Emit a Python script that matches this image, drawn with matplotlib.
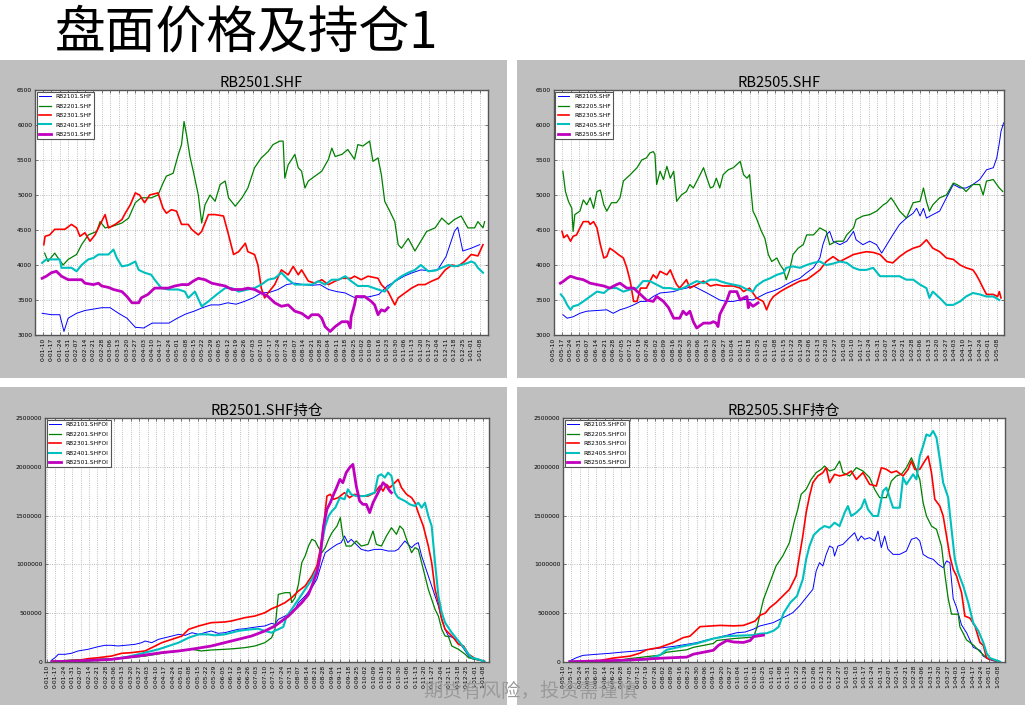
import matplotlib
matplotlib.use("Agg")
import matplotlib.pyplot as plt
from matplotlib.patches import Rectangle
import pandas as pd

plt.rcParams["font.family"] = ["Noto Sans CJK SC", "DejaVu Sans"]

# x positions are in weeks after the first tick date; prices in yuan, open interest in thousands
start_jan = "2020-01-10"
start_may = "2023-05-10"

names_jan = ["RB2101", "RB2201", "RB2301", "RB2401", "RB2501"]
names_may = ["RB2105", "RB2205", "RB2305", "RB2405", "RB2505"]

# ---- RB2501 price panel
p01_2101 = [(-0.1, 3310), (1, 3290), (2, 3290), (2.5, 3050), (3, 3240), (4, 3310), (5, 3350), (6, 3370),
            (7, 3390), (8, 3390), (9, 3310), (10, 3240), (11, 3110), (12, 3100), (13, 3170), (14, 3170),
            (15, 3170), (16, 3240), (17, 3300), (18, 3340), (19, 3390), (20, 3430), (21, 3430), (22, 3460),
            (23, 3440), (24, 3480), (25, 3530), (26, 3600), (27, 3610), (28, 3650), (29, 3720), (30, 3740),
            (31, 3720), (32, 3710), (33, 3720), (34, 3650), (35, 3620), (36, 3600), (37, 3540), (38, 3530),
            (39, 3550), (40, 3580), (41, 3700), (42, 3770), (43, 3840), (44, 3890), (45, 3930), (46, 3920),
            (47, 3930), (48, 4120), (49, 4480), (49.4, 4540), (50, 4200), (51, 4240), (52, 4290)]
p01_2201 = [(0.2, 4170), (0.6, 4050), (1.4, 4170), (1.8, 4100), (2.4, 4000), (3.0, 4080), (4.0, 4150),
            (4.6, 4290), (5.4, 4430), (6.4, 4480), (6.8, 4620), (7.4, 4530), (8.2, 4550), (9.4, 4600),
            (10.2, 4670), (11.0, 4890), (11.7, 4960), (12.9, 4960), (13.7, 5000), (14.3, 5170), (14.7, 5270),
            (15.5, 5310), (16.1, 5570), (16.5, 5720), (16.8, 6050), (17.1, 5860), (17.5, 5550), (17.9, 5340),
            (18.5, 5000), (18.9, 4600), (19.3, 4860), (19.9, 5000), (20.5, 4910), (21.1, 5150), (21.7, 5200),
            (22.1, 4960), (22.9, 4840), (23.7, 4960), (24.4, 5100), (25.2, 5390), (26.0, 5530), (26.8, 5620),
            (27.4, 5720), (28.2, 5770), (28.6, 5770), (28.8, 5240), (29.2, 5430), (30.0, 5580), (30.4, 5390),
            (30.8, 5340), (31.2, 5100), (31.6, 5200), (32.4, 5270), (33.2, 5340), (34.0, 5510), (34.4, 5670),
            (34.8, 5550), (35.6, 5580), (36.3, 5650), (37.1, 5510), (37.5, 5720), (38.1, 5700), (38.9, 5770),
            (39.3, 5480), (39.9, 5530), (40.3, 5290), (40.7, 4910), (41.3, 4770), (41.9, 4620), (42.3, 4290),
            (42.7, 4240), (43.5, 4380), (44.3, 4200), (45.0, 4340), (45.7, 4480), (46.7, 4530), (47.5, 4670),
            (48.3, 4580), (49.0, 4650), (49.8, 4700), (50.6, 4530), (51.4, 4530), (51.8, 4620), (52.4, 4530),
            (52.6, 4620)]
p01_2301 = [(0.1, 4290), (0.25, 4410), (0.8, 4430), (1.4, 4510), (2.6, 4510), (3.4, 4580), (4.0, 4530),
            (4.4, 4410), (5.0, 4460), (5.6, 4340), (6.2, 4430), (6.8, 4580), (7.4, 4720), (7.8, 4530),
            (8.6, 4580), (9.4, 4650), (9.8, 4740), (10.4, 4860), (11.0, 5030), (11.5, 5000), (12.1, 4890),
            (12.7, 5000), (13.7, 5030), (14.3, 4810), (14.7, 4740), (15.3, 4790), (15.9, 4770), (16.5, 4580),
            (17.3, 4580), (17.7, 4510), (18.5, 4430), (18.9, 4480), (19.7, 4720), (20.5, 4720), (21.5, 4700),
            (22.1, 4430), (22.7, 4150), (23.3, 4190), (24.1, 4310), (24.4, 4190), (25.2, 4150), (25.6, 4000),
            (26.0, 3670), (26.4, 3530), (26.8, 3600), (27.6, 3720), (28.4, 3930), (29.2, 3860), (29.8, 3980),
            (30.4, 3860), (30.8, 3930), (31.6, 3770), (32.4, 3740), (33.2, 3790), (34.0, 3720), (34.8, 3770),
            (35.6, 3810), (36.7, 3810), (37.1, 3840), (37.9, 3790), (38.7, 3840), (39.9, 3810), (40.3, 3720),
            (41.1, 3620), (41.9, 3430), (42.3, 3530), (43.1, 3600), (43.9, 3670), (44.7, 3720), (45.5, 3720),
            (46.3, 3770), (47.1, 3810), (47.9, 3930), (48.7, 4000), (49.4, 3980), (50.2, 4050), (51.0, 4150),
            (51.8, 4130), (52.4, 4290)]
p01_2401 = [(-0.1, 4030), (0.4, 4080), (2.0, 4080), (2.2, 3960), (3.4, 3960), (4.0, 3910), (4.6, 4000),
            (5.4, 4080), (6.0, 4100), (6.6, 4150), (7.8, 4150), (8.4, 4220), (8.8, 4100), (9.4, 3980),
            (10.2, 4000), (11.0, 4050), (11.4, 3930), (12.1, 3890), (12.9, 3860), (13.3, 3790), (14.1, 3670),
            (14.9, 3650), (16.1, 3650), (16.9, 3620), (17.3, 3530), (18.1, 3620), (18.9, 3410), (19.7, 3480),
            (20.7, 3580), (21.7, 3670), (22.5, 3670), (23.3, 3620), (24.4, 3650), (25.2, 3670), (26.0, 3720),
            (26.8, 3790), (27.6, 3810), (28.4, 3890), (29.2, 3790), (30.0, 3720), (30.8, 3720), (32.0, 3720),
            (32.8, 3770), (33.6, 3720), (34.4, 3790), (35.2, 3790), (36.0, 3840), (36.7, 3770), (37.5, 3700),
            (38.7, 3700), (39.9, 3650), (40.7, 3620), (41.1, 3670), (41.9, 3770), (42.7, 3840), (43.5, 3890),
            (44.3, 3930), (45.0, 4000), (45.9, 3910), (46.7, 3920), (47.5, 3960), (48.3, 4000), (49.0, 3980),
            (49.8, 4000), (50.6, 4030), (51.0, 4050), (51.4, 4030), (51.8, 3960), (52.4, 3890)]
p01_2501 = [(-0.1, 3810), (0.4, 3840), (1.0, 3890), (1.6, 3910), (2.2, 3840), (3.0, 3790), (4.6, 3790),
            (5.0, 3740), (6.0, 3720), (6.6, 3740), (7.0, 3700), (7.8, 3680), (8.4, 3650), (9.4, 3620),
            (10.0, 3550), (10.6, 3460), (11.4, 3460), (11.7, 3530), (12.5, 3580), (13.3, 3670), (14.9, 3670),
            (15.7, 3700), (16.5, 3720), (17.3, 3720), (17.9, 3770), (18.5, 3810), (19.3, 3790), (20.1, 3740),
            (20.9, 3720), (21.7, 3700), (22.5, 3650), (23.7, 3650), (24.4, 3670), (25.2, 3650), (26.0, 3600),
            (26.8, 3550), (27.6, 3460), (28.4, 3410), (29.2, 3430), (30.0, 3340), (30.8, 3310), (31.6, 3240),
            (32.0, 3290), (32.8, 3290), (33.2, 3240), (33.6, 3120), (34.2, 3050), (34.8, 3120), (35.6, 3190),
            (36.3, 3190), (36.6, 3100), (36.7, 3260), (37.1, 3430), (37.3, 3550), (38.3, 3550), (39.1, 3480),
            (39.5, 3430), (39.9, 3290), (40.3, 3360), (40.7, 3340), (41.1, 3390)]

# ---- RB2505 price panel
p05_2105 = [(1.1, 3290), (1.6, 3240), (2.3, 3260), (3.1, 3310), (3.9, 3340), (5.1, 3350), (6.25, 3360),
            (7.0, 3310), (7.8, 3360), (8.6, 3390), (9.4, 3430), (10.2, 3480), (10.9, 3480), (11.7, 3550),
            (12.5, 3600), (13.3, 3610), (14.1, 3620), (14.8, 3650), (15.6, 3670), (16.4, 3700), (17.2, 3650),
            (18.0, 3600), (18.75, 3550), (19.5, 3500), (20.3, 3480), (21.1, 3480), (21.9, 3500), (22.7, 3510),
            (23.4, 3500), (24.2, 3550), (25.0, 3600), (25.8, 3630), (26.6, 3670), (27.3, 3720), (28.1, 3770),
            (28.9, 3810), (29.7, 3890), (30.5, 3960), (31.25, 4100), (31.6, 4290), (32.0, 4430), (32.4, 4480),
            (32.8, 4340), (33.6, 4290), (34.4, 4340), (35.2, 4480), (35.5, 4360), (36.3, 4290), (37.1, 4340),
            (37.9, 4290), (38.5, 4170), (39.1, 4290), (39.8, 4430), (40.6, 4580), (41.4, 4670), (42.2, 4740),
            (42.6, 4810), (43.0, 4700), (43.4, 4810), (43.75, 4670), (44.5, 4720), (45.3, 4770), (46.1, 4960),
            (46.9, 5150), (47.7, 5100), (48.4, 5100), (49.2, 5150), (50.0, 5220), (50.8, 5360), (51.6, 5390),
            (52.0, 5530), (52.3, 5740), (52.5, 5910), (52.8, 6030)]
p05_2205 = [(1.1, 5340), (1.4, 5050), (1.75, 4910), (2.15, 4810), (2.3, 4480), (2.5, 4720), (3.1, 4770),
            (3.5, 4930), (3.9, 4860), (4.3, 4960), (4.7, 4810), (5.1, 5050), (5.5, 5070), (5.9, 4860),
            (6.25, 4770), (6.8, 4890), (7.4, 4890), (7.8, 4960), (8.2, 5200), (9.0, 5290), (9.8, 5390),
            (10.35, 5500), (10.9, 5530), (11.3, 5600), (11.7, 5620), (11.9, 5580), (12.1, 5150), (12.5, 5340),
            (12.9, 5220), (13.3, 5410), (13.7, 5240), (14.1, 5340), (14.45, 4910), (15.0, 5000), (15.6, 5050),
            (16.0, 5150), (16.4, 5100), (17.2, 5290), (17.6, 5390), (18.0, 5240), (18.4, 5100), (18.75, 5120),
            (19.1, 5240), (19.5, 5100), (19.9, 5290), (20.5, 5360), (21.1, 5390), (21.9, 5480), (22.3, 5290),
            (22.7, 5240), (23.0, 5290), (23.4, 4770), (23.8, 4670), (24.4, 4480), (24.8, 4380), (25.2, 4150),
            (25.6, 4050), (26.2, 4100), (26.6, 4000), (27.0, 3930), (27.3, 3790), (27.7, 3930), (28.1, 4150),
            (28.7, 4240), (29.3, 4290), (29.7, 4430), (30.5, 4430), (31.25, 4530), (32.0, 4480), (32.4, 4290),
            (33.2, 4340), (34.0, 4340), (34.4, 4430), (35.2, 4530), (35.5, 4650), (36.3, 4700), (37.1, 4720),
            (37.9, 4770), (38.7, 4860), (39.1, 4890), (39.6, 4960), (40.0, 4890), (40.6, 4770), (41.4, 4670),
            (42.2, 4890), (43.0, 4910), (43.4, 5100), (43.75, 4910), (44.1, 4770), (44.5, 4860), (45.3, 4960),
            (46.1, 5000), (46.9, 5170), (47.3, 5150), (48.0, 5100), (48.4, 5050), (49.2, 5150), (50.0, 5150),
            (50.4, 5000), (50.8, 5200), (51.6, 5220), (52.0, 5150), (52.3, 5100), (52.7, 5050)]
p05_2305 = [(1.0, 4480), (1.2, 4390), (1.6, 4430), (2.0, 4340), (2.3, 4410), (2.7, 4430), (3.1, 4530),
            (3.5, 4620), (4.1, 4620), (4.3, 4580), (4.7, 4620), (5.1, 4530), (5.5, 4290), (5.9, 4100),
            (6.25, 4120), (6.6, 4240), (7.2, 4190), (7.6, 4150), (8.2, 4100), (8.6, 3960), (9.0, 3770),
            (9.4, 3480), (9.8, 3480), (10.2, 3670), (10.9, 3670), (11.7, 3860), (12.1, 3810), (12.5, 3910),
            (13.3, 3860), (13.7, 3930), (14.1, 3810), (14.45, 3720), (14.8, 3670), (15.6, 3790), (16.0, 3670),
            (16.8, 3720), (17.6, 3770), (18.4, 3700), (19.1, 3720), (19.9, 3700), (21.1, 3700), (21.9, 3670),
            (22.3, 3620), (23.0, 3670), (23.8, 3530), (24.6, 3480), (25.0, 3360), (25.4, 3480), (25.8, 3550),
            (26.6, 3620), (27.3, 3670), (28.1, 3720), (28.9, 3770), (29.7, 3790), (30.5, 3860), (31.25, 3930),
            (32.0, 4050), (32.8, 4120), (33.6, 4050), (34.4, 4100), (35.2, 4150), (35.9, 4170), (36.7, 4190),
            (37.5, 4180), (38.3, 4150), (39.1, 4050), (39.8, 4030), (40.6, 4120), (41.4, 4190), (42.2, 4240),
            (43.0, 4270), (43.75, 4360), (44.5, 4240), (45.3, 4190), (46.1, 4100), (46.9, 4080), (47.7, 4000),
            (48.4, 3960), (49.2, 3930), (49.6, 3860), (50.0, 3770), (50.4, 3670), (50.8, 3580), (51.6, 3580),
            (52.1, 3550), (52.3, 3620), (52.5, 3530)]
p05_2405 = [(0.86, 3580), (1.2, 3530), (1.6, 3430), (2.0, 3360), (2.3, 3410), (2.9, 3430), (3.5, 3480),
            (4.3, 3550), (5.1, 3620), (5.9, 3600), (6.6, 3670), (7.4, 3670), (8.2, 3620), (9.0, 3650),
            (9.8, 3670), (10.5, 3770), (11.3, 3770), (12.1, 3720), (12.9, 3670), (13.7, 3670), (14.45, 3650),
            (15.2, 3670), (16.0, 3720), (16.8, 3770), (17.6, 3740), (18.4, 3790), (19.1, 3790), (19.5, 3770),
            (20.3, 3740), (21.1, 3720), (21.9, 3700), (22.7, 3650), (23.4, 3620), (23.8, 3700), (24.6, 3770),
            (25.4, 3810), (26.2, 3860), (27.0, 3890), (27.3, 3960), (28.1, 3980), (28.9, 3960), (29.7, 4000),
            (30.5, 4030), (31.25, 4050), (32.0, 4000), (32.8, 4020), (33.6, 4050), (34.4, 4030), (35.2, 3960),
            (35.9, 3930), (36.7, 3930), (37.5, 3960), (38.3, 3840), (39.1, 3840), (39.8, 3840), (40.6, 3840),
            (41.4, 3790), (42.2, 3790), (43.0, 3720), (43.75, 3670), (44.1, 3530), (44.5, 3620), (45.3, 3530),
            (46.1, 3430), (46.9, 3430), (47.7, 3480), (48.4, 3550), (49.2, 3600), (50.0, 3580), (50.8, 3550),
            (51.6, 3550), (52.3, 3500)]
p05_2505 = [(0.8, 3740), (1.2, 3770), (1.6, 3810), (2.0, 3840), (2.7, 3810), (3.5, 3790), (4.3, 3740),
            (5.1, 3720), (5.9, 3700), (6.6, 3670), (7.4, 3720), (7.8, 3740), (8.6, 3670), (9.4, 3670),
            (10.2, 3580), (10.9, 3500), (11.7, 3480), (12.1, 3550), (12.9, 3480), (13.5, 3390), (14.1, 3240),
            (14.8, 3240), (15.2, 3340), (15.6, 3290), (16.0, 3340), (16.4, 3190), (16.8, 3100), (17.6, 3170),
            (18.4, 3170), (18.75, 3190), (19.1, 3170), (19.3, 3120), (19.5, 3290), (19.9, 3390), (20.3, 3480),
            (20.7, 3620), (21.5, 3620), (21.9, 3500), (22.3, 3530), (22.7, 3550), (22.85, 3390), (23.0, 3460),
            (23.4, 3410), (24.0, 3460)]

# ---- RB2501 open interest panel (thousand lots)
oi01_2101 = [(0.56, 20), (0.95, 44), (1.35, 79), (2.15, 79), (2.9, 89), (3.7, 113), (4.9, 130), (6.1, 157),
             (6.9, 171), (7.7, 171), (8.5, 164), (9.3, 171), (10.5, 181), (11.3, 198), (11.7, 215), (12.5, 198),
             (13.3, 232), (14.1, 249), (14.9, 266), (15.7, 283), (16.5, 273), (17.3, 300), (18.1, 283),
             (18.8, 300), (19.6, 318), (20.4, 294), (21.2, 300), (22.0, 318), (22.8, 335), (23.6, 341),
             (24.4, 352), (25.2, 362), (26.0, 369), (26.8, 396), (27.2, 386), (27.6, 437), (28.4, 471),
             (29.2, 505), (29.6, 540), (30.0, 608), (30.8, 676), (31.6, 762), (32.2, 847), (32.8, 1018),
             (33.2, 1120), (34.0, 1171), (34.6, 1205), (35.1, 1223), (35.5, 1291), (35.9, 1223), (36.3, 1257),
             (36.9, 1205), (37.5, 1154), (38.3, 1137), (39.1, 1154), (39.9, 1154), (40.7, 1137), (41.5, 1137),
             (41.9, 1154), (42.7, 1240), (43.1, 1205), (43.5, 1171), (43.9, 1205), (44.3, 1223), (44.7, 1086),
             (45.1, 984), (45.5, 881), (45.9, 779), (46.3, 676), (46.7, 574), (47.1, 437), (47.5, 335),
             (47.9, 266), (48.5, 249), (49.1, 215), (49.5, 164), (49.9, 113), (50.3, 61), (50.7, 34),
             (51.5, 20), (52.2, 7)]
oi01_2201 = [(0.56, 7), (2.9, 20), (5.7, 27), (7.7, 34), (9.7, 44), (11.7, 61), (13.7, 89), (15.7, 113),
             (17.3, 130), (18.4, 113), (19.6, 123), (21.2, 130), (22.4, 137), (23.6, 147), (24.8, 164),
             (26.0, 198), (26.8, 249), (27.2, 335), (27.6, 693), (28.4, 710), (29.0, 710), (29.2, 608),
             (29.6, 659), (30.0, 796), (30.4, 1018), (30.8, 1086), (31.2, 1188), (31.6, 1257), (32.0, 1240),
             (32.4, 1171), (32.8, 1120), (33.2, 1171), (33.6, 1257), (34.0, 1325), (34.6, 1393), (35.0, 1479),
             (35.3, 1291), (35.7, 1188), (36.3, 1188), (36.9, 1240), (37.5, 1188), (38.3, 1205), (38.9, 1342),
             (39.3, 1205), (39.9, 1188), (40.5, 1291), (41.1, 1376), (41.7, 1308), (42.1, 1393), (42.5, 1359),
             (42.9, 1257), (43.5, 1120), (43.9, 1171), (44.3, 1154), (44.7, 1018), (45.1, 881), (45.5, 744),
             (45.9, 642), (46.3, 540), (46.7, 471), (47.1, 335), (47.5, 266), (47.9, 260), (48.3, 164),
             (49.1, 130), (49.9, 79), (50.3, 44), (51.1, 27), (52.2, 7)]
oi01_2301 = [(0.56, 7), (3.7, 17), (4.9, 34), (6.1, 44), (7.7, 61), (8.9, 89), (10.1, 96), (11.7, 113),
             (12.9, 164), (13.7, 198), (14.9, 232), (16.1, 266), (16.9, 335), (18.1, 369), (19.6, 403),
             (21.2, 410), (22.0, 420), (22.8, 437), (23.6, 454), (24.8, 471), (26.0, 505), (26.8, 546),
             (27.6, 574), (28.4, 608), (29.2, 659), (30.0, 727), (30.8, 779), (31.6, 881), (32.2, 984),
             (32.6, 1154), (33.0, 1393), (33.4, 1700), (33.8, 1718), (34.2, 1667), (34.75, 1684), (35.5, 1735),
             (36.1, 1684), (36.7, 1718), (37.5, 1700), (38.3, 1700), (39.1, 1735), (39.7, 1803), (40.1, 1752),
             (40.5, 1820), (40.9, 1786), (41.5, 1837), (41.9, 1871), (42.3, 1786), (42.9, 1718), (43.5, 1684),
             (43.9, 1632), (44.3, 1530), (44.9, 1393), (45.5, 1188), (45.9, 1018), (46.3, 744), (46.7, 608),
             (47.1, 437), (47.5, 335), (47.9, 300), (48.5, 249), (49.1, 181), (49.7, 164), (50.3, 79),
             (51.1, 34), (52.2, 7)]
oi01_2401 = [(0.56, 3), (3.7, 10), (7.7, 27), (9.7, 55), (10.9, 79), (11.7, 96), (12.5, 113), (13.3, 130),
             (14.5, 164), (15.7, 198), (16.9, 249), (18.1, 283), (19.2, 283), (20.0, 273), (21.2, 283),
             (22.0, 300), (22.8, 318), (23.6, 328), (24.4, 335), (25.2, 341), (26.0, 318), (26.8, 300),
             (27.2, 320), (27.6, 335), (28.2, 360), (28.6, 471), (29.2, 540), (30.0, 642), (30.8, 744),
             (31.6, 847), (32.0, 915), (32.4, 984), (32.8, 1223), (33.2, 1393), (33.6, 1496), (34.0, 1547),
             (34.4, 1581), (34.95, 1684), (35.5, 1667), (35.9, 1769), (36.3, 1718), (36.9, 1700), (37.9, 1700),
             (39.1, 1735), (39.5, 1906), (39.9, 1923), (40.3, 1889), (40.7, 1940), (41.1, 1906), (41.5, 1735),
             (41.9, 1684), (42.7, 1650), (43.3, 1615), (43.9, 1598), (44.3, 1632), (44.7, 1581), (45.1, 1632),
             (45.5, 1496), (45.9, 1393), (46.3, 1018), (46.7, 676), (47.1, 505), (47.5, 403), (48.3, 300),
             (49.1, 215), (49.9, 130), (50.3, 79), (50.7, 44), (51.5, 27), (52.2, 3)]
oi01_2501 = [(0.56, 3), (3.7, 10), (7.7, 27), (10.9, 61), (13.7, 96), (15.7, 113), (17.7, 137), (19.6, 164),
             (21.2, 198), (22.8, 232), (24.4, 266), (26.0, 318), (27.2, 369), (28.0, 420), (28.8, 471),
             (29.6, 540), (30.4, 608), (31.2, 693), (31.6, 779), (32.2, 915), (32.6, 1086), (33.0, 1393),
             (33.4, 1564), (33.8, 1632), (34.2, 1718), (34.55, 1786), (34.95, 1871), (35.3, 1837), (35.7, 1940),
             (36.1, 1991), (36.5, 2025), (36.9, 1803), (37.3, 1650), (37.7, 1615), (38.1, 1615), (38.5, 1530),
             (38.9, 1632), (39.3, 1700), (39.7, 1769), (40.1, 1837), (40.5, 1803), (40.9, 1752), (41.1, 1735)]

# ---- RB2505 open interest panel (thousand lots)
oi05_2105 = [(0.8, 10), (1.6, 44), (2.4, 68), (4.0, 79), (5.6, 89), (7.2, 102), (8.8, 113), (10.4, 130),
             (12.0, 147), (13.6, 164), (14.8, 181), (16.0, 198), (17.2, 225), (18.4, 249), (19.6, 273),
             (20.8, 300), (21.8, 307), (22.75, 335), (23.55, 369), (24.35, 386), (25.15, 403), (25.95, 437),
             (26.75, 471), (27.5, 505), (28.3, 574), (29.1, 659), (29.9, 744), (30.3, 932), (30.7, 1018),
             (31.1, 984), (31.5, 1103), (31.9, 1188), (32.3, 1171), (32.5, 1086), (32.9, 1188), (33.5, 1205),
             (34.1, 1257), (34.7, 1308), (34.9, 1325), (35.3, 1240), (35.7, 1291), (36.1, 1257), (36.7, 1274),
             (37.3, 1240), (37.7, 1342), (38.1, 1171), (38.5, 1291), (38.9, 1154), (39.5, 1103), (40.3, 1103),
             (41.1, 1137), (41.7, 1257), (42.3, 1274), (42.7, 1240), (43.1, 1103), (43.7, 1069), (44.3, 1052),
             (44.9, 1001), (45.5, 966), (45.9, 1035), (46.3, 1018), (46.7, 650), (47.1, 560), (47.7, 380),
             (48.3, 300), (49.1, 150), (49.9, 120), (50.3, 60), (50.9, 30), (51.5, 12), (52.3, 3)]
oi05_2205 = [(0.8, 3), (6.0, 10), (8.0, 35), (11.6, 70), (12.4, 100), (14.8, 125), (15.6, 150), (18.0, 190),
             (18.4, 220), (20.4, 240), (22.8, 255), (23.2, 350), (23.6, 500), (24.0, 642), (24.75, 813),
             (25.5, 984), (26.3, 1086), (27.1, 1223), (27.7, 1445), (28.1, 1564), (28.5, 1718), (29.1, 1769),
             (29.7, 1871), (30.3, 1940), (30.9, 1974), (31.3, 2008), (31.9, 1957), (32.5, 1974), (33.1, 2059),
             (33.5, 1940), (34.3, 1906), (35.1, 1991), (35.9, 1957), (36.7, 1889), (37.3, 1769), (37.9, 1684),
             (38.7, 1684), (39.3, 1854), (39.9, 1906), (40.5, 1923), (41.1, 1991), (41.7, 2093), (42.1, 2008),
             (42.7, 1871), (43.1, 1632), (43.5, 1496), (44.1, 1393), (44.7, 1359), (45.3, 1188), (45.7, 900),
             (46.1, 650), (46.5, 490), (47.3, 490), (47.5, 360), (48.3, 226), (49.1, 175), (49.9, 106),
             (50.7, 40), (51.9, 8)]
oi05_2305 = [(0.8, 3), (4.4, 15), (6.0, 40), (8.0, 60), (9.2, 90), (10.0, 125), (11.6, 150), (13.2, 200),
             (14.4, 250), (15.2, 265), (16.0, 330), (16.4, 362), (18.8, 375), (20.4, 370), (21.6, 375),
             (22.4, 400), (23.0, 420), (23.6, 480), (24.2, 500), (24.75, 557), (25.5, 608), (26.3, 676),
             (27.1, 744), (27.9, 881), (28.3, 1086), (28.7, 1291), (29.1, 1530), (29.5, 1700), (29.9, 1837),
             (30.5, 1906), (31.1, 1940), (31.5, 1991), (31.9, 1837), (32.5, 1923), (33.1, 1906), (33.9, 1923),
             (34.5, 1957), (35.1, 1871), (35.9, 1940), (36.7, 1820), (37.5, 1803), (38.1, 1991), (38.7, 1974),
             (39.3, 1940), (39.9, 1957), (40.7, 1906), (41.3, 1974), (41.7, 2059), (42.1, 1974), (42.7, 1974),
             (43.3, 2059), (43.7, 2110), (44.1, 1940), (44.5, 1667), (45.1, 1598), (45.5, 1496), (45.9, 1291),
             (46.3, 1086), (46.7, 949), (47.1, 881), (47.7, 710), (48.1, 470), (48.7, 450), (49.3, 369),
             (49.9, 200), (50.3, 170), (50.7, 40), (51.5, 20), (52.3, 3)]
oi05_2405 = [(0.8, 3), (6.0, 10), (10.0, 27), (11.6, 70), (12.4, 125), (14.0, 155), (16.0, 190), (18.0, 240),
             (19.6, 265), (21.0, 270), (22.8, 275), (23.6, 290), (24.4, 295), (25.2, 320), (25.8, 360),
             (26.4, 500), (27.2, 608), (28.0, 676), (28.7, 847), (29.1, 1052), (29.5, 1188), (30.0, 1300),
             (30.7, 1359), (31.3, 1393), (31.9, 1376), (32.5, 1427), (33.1, 1393), (33.7, 1530), (34.1, 1598),
             (34.5, 1496), (35.1, 1530), (35.7, 1581), (36.1, 1667), (36.5, 1564), (37.1, 1496), (37.7, 1496),
             (38.3, 1752), (38.7, 1786), (39.1, 1684), (39.5, 1581), (40.3, 1581), (40.7, 1889), (41.1, 1820),
             (41.5, 1871), (41.9, 1923), (42.3, 1871), (42.7, 2110), (43.1, 2213), (43.5, 2332), (43.9, 2315),
             (44.3, 2367), (44.7, 2298), (45.1, 2076), (45.5, 1837), (46.1, 1684), (46.5, 1359), (46.9, 1052),
             (47.3, 915), (47.9, 779), (48.5, 608), (49.1, 400), (49.7, 320), (50.3, 200), (50.7, 90),
             (51.1, 40), (52.3, 3)]
oi05_2505 = [(0.8, 3), (4.0, 10), (8.0, 20), (12.0, 40), (14.8, 50), (15.6, 80), (18.0, 120), (18.6, 170),
             (19.6, 220), (20.4, 205), (21.6, 200), (22.4, 220), (22.8, 260), (24.0, 275)]

colors = ["#0000ff", "#008000", "#ff0000", "#00bfbf", "#bf00bf"]
widths = [0.7, 0.9, 1.2, 1.5, 2.0]

W, H = 1034, 719
fig = plt.figure(figsize=(W / 100, H / 100), dpi=100)


def px_rect(x0, y0, x1, y1):
    return [x0 / W, 1 - y1 / H, (x1 - x0) / W, (y1 - y0) / H]


def week_labels(start):
    days = pd.date_range(start, periods=53, freq="7D")
    base = days[0].year
    return [f"{d.year - base}-{d:%m-%d}" for d in days]


# gray panel backgrounds, kept behind the axes
for x0, y0, x1, y1 in [(0, 60, 507, 378), (517, 60, 1025, 378), (0, 387, 507, 705), (517, 387, 1025, 705)]:
    fig.patches.append(Rectangle((x0 / W, 1 - y1 / H), (x1 - x0) / W, (y1 - y0) / H,
                                 transform=fig.transFigure, facecolor="#bfbfbf", edgecolor="none",
                                 zorder=-10))


def panel(rect, title, series, labels, start, xlim, ylim, yticks, scale=1):
    ax = fig.add_axes(px_rect(*rect))
    ax.set_zorder(1)
    ax.set_facecolor("white")
    for pts, lab, c, lw in zip(series, labels, colors, widths):
        xs = [p[0] for p in pts]
        ys = [p[1] * scale for p in pts]
        ax.plot(xs, ys, color=c, lw=lw, label=lab)
    ax.set_xlim(*xlim)
    ax.set_ylim(*ylim)
    ax.set_yticks(yticks)
    ax.set_yticklabels([str(v) for v in yticks], family="DejaVu Sans")
    ax.set_xticks(range(53))
    ax.set_xticklabels(week_labels(start), rotation=90, family="DejaVu Sans")
    ax.tick_params(labelsize=4.3, direction="in", length=2, width=0.5, top=True, right=True,
                   color="#444444", pad=2)
    ax.grid(True, color="#aaaaaa", linestyle=":", linewidth=0.6)
    for s in ax.spines.values():
        s.set_color("#555555")
        s.set_linewidth(1.0)
    ax.set_title(title, fontsize=10.5, pad=2)
    leg = ax.legend(loc="upper left", fontsize=4.2, handlelength=2.0, labelspacing=0.75,
                    borderaxespad=0.3, fancybox=False, framealpha=1)
    leg.get_frame().set_edgecolor("#555555")
    leg.get_frame().set_linewidth(0.8)
    for t in leg.get_texts():
        t.set_family("DejaVu Sans")
    return ax


panel((35, 90, 488, 335), "RB2501.SHF", [p01_2101, p01_2201, p01_2301, p01_2401, p01_2501],
      [n + ".SHF" for n in names_jan], start_jan, (-0.95, 53.0), (3000, 6500), range(3000, 6501, 500))
panel((553.5, 90, 1004, 335), "RB2505.SHF", [p05_2105, p05_2205, p05_2305, p05_2405, p05_2505],
      [n + ".SHF" for n in names_may], start_may, (0.0, 52.85), (3000, 6500), range(3000, 6501, 500))
panel((45, 418, 489, 662), "RB2501.SHF持仓", [oi01_2101, oi01_2201, oi01_2301, oi01_2401, oi01_2501],
      [n + ".SHFOI" for n in names_jan], start_jan, (-0.24, 52.74), (0, 2500000),
      range(0, 2500001, 500000), scale=1000)
panel((563, 418, 1005, 662), "RB2505.SHF持仓", [oi05_2105, oi05_2205, oi05_2305, oi05_2405, oi05_2505],
      [n + ".SHFOI" for n in names_may], start_may, (0.0, 52.9), (0, 2500000),
      range(0, 2500001, 500000), scale=1000)

fig.text(55 / W, 1 - 33 / H, "盘面价格及持仓1", fontsize=36.5, va="center", ha="left", color="black")
fig.text(530 / W, 1 - 691 / H, "期货有风险，投资需谨慎", fontsize=14, va="center", ha="center",
         color="#9a9a9a", zorder=10)

fig.savefig("out.png", dpi=100)
